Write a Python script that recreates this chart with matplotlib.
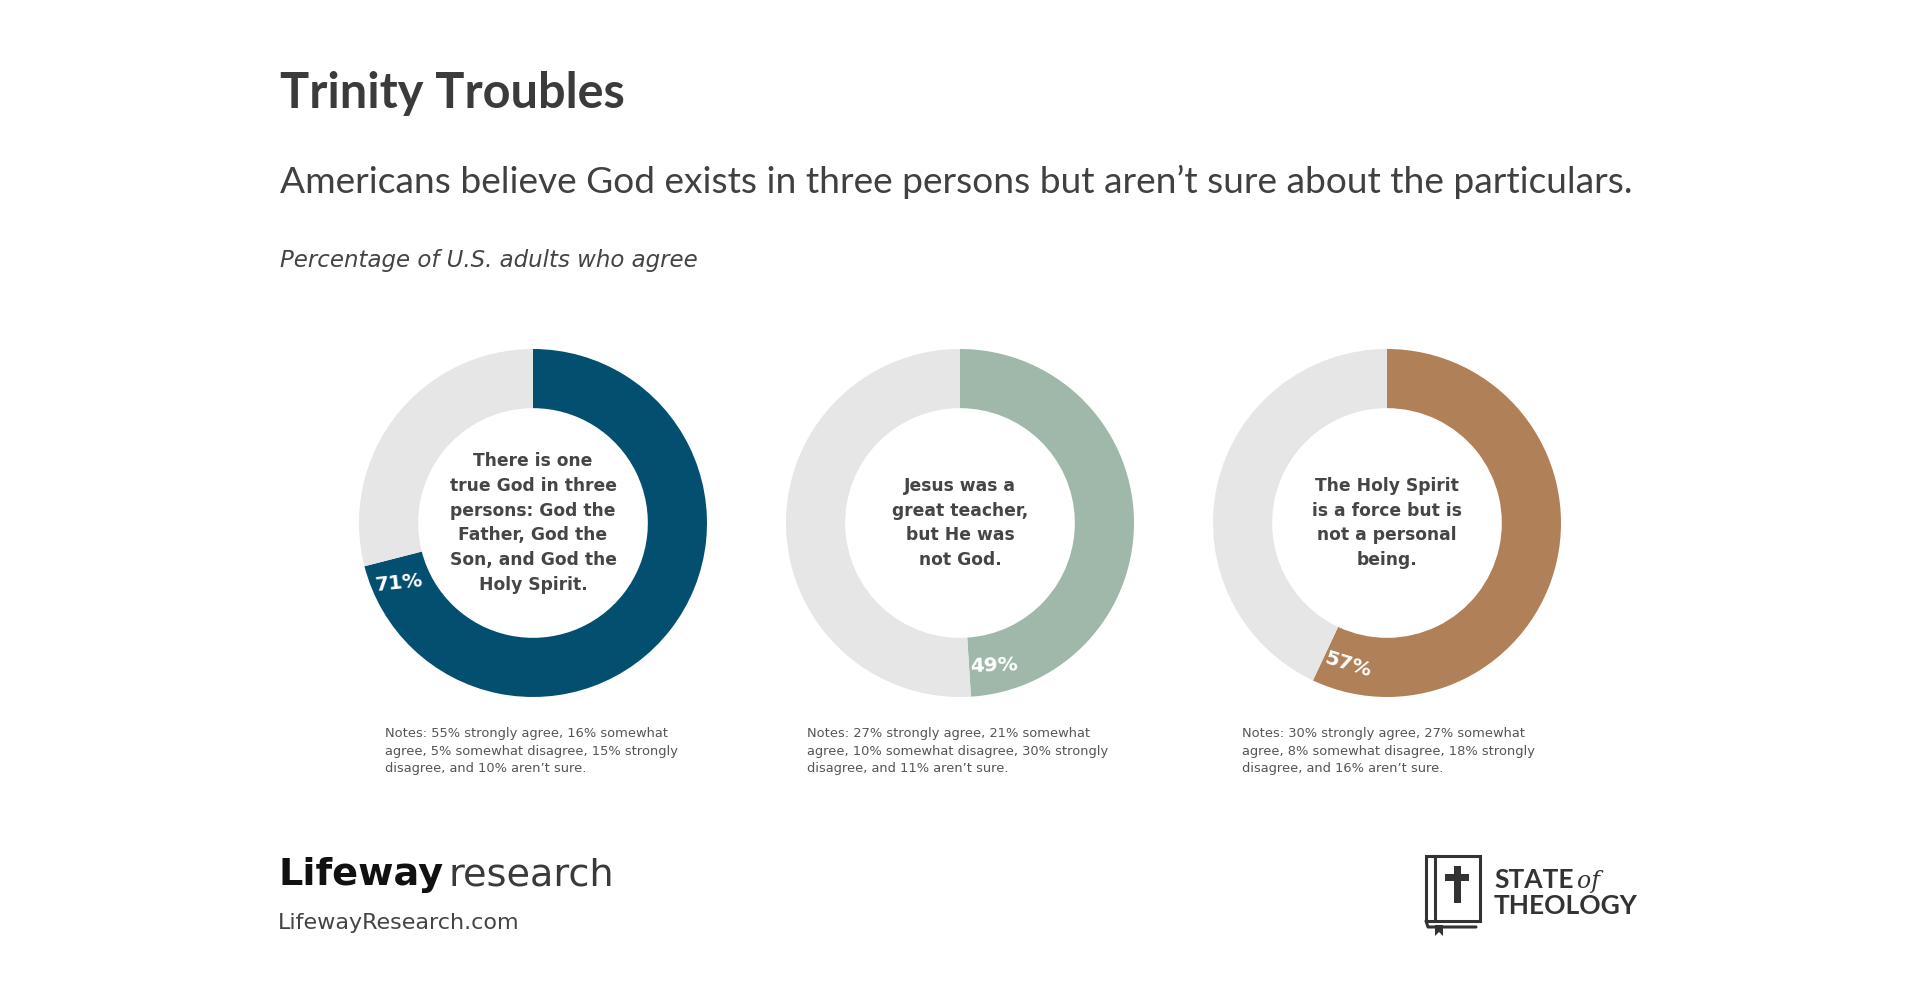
import matplotlib
matplotlib.use("Agg")
import matplotlib.pyplot as plt
from matplotlib.patches import Rectangle, Polygon
import numpy as np

plt.rcParams['font.family'] = ['DejaVu Sans']

# ---- data ----
title = "Trinity Troubles"
subtitle = "Americans believe God exists in three persons but aren\u2019t sure about the particulars."
caption = "Percentage of U.S. adults who agree"
statements = [
    "There is one\ntrue God in three\npersons: God the\nFather, God the\nSon, and God the\nHoly Spirit.",
    "Jesus was a\ngreat teacher,\nbut He was\nnot God.",
    "The Holy Spirit\nis a force but is\nnot a personal\nbeing.",
]
agree_pct = [71, 49, 57]
notes = [
    "Notes: 55% strongly agree, 16% somewhat\nagree, 5% somewhat disagree, 15% strongly\ndisagree, and 10% aren\u2019t sure.",
    "Notes: 27% strongly agree, 21% somewhat\nagree, 10% somewhat disagree, 30% strongly\ndisagree, and 11% aren\u2019t sure.",
    "Notes: 30% strongly agree, 27% somewhat\nagree, 8% somewhat disagree, 18% strongly\ndisagree, and 16% aren\u2019t sure.",
]

# ---- styles ----
ring_colors = ["#034f6f", "#9fb8a9", "#b08058"]
rest_color = "#e6e6e6"
label_rot = [6, 2, -17]

W, H = 1920, 1008
fig = plt.figure(figsize=(W / 100, H / 100), dpi=100)
fig.patch.set_facecolor("white")

ov = fig.add_axes([0, 0, 1, 1])
ov.set_xlim(0, W)
ov.set_ylim(H, 0)
ov.axis("off")

ov.text(280, 108, title, fontsize=35, fontweight="bold", family="Lato",
        color="#3b3b3b", ha="left", va="baseline")
ov.text(280, 193, subtitle, fontsize=26.7, fontweight="normal", family="Lato",
        color="#404040", ha="left", va="baseline")
ov.text(280, 267, caption, fontsize=16.5, style="italic", color="#444444",
        ha="left", va="baseline")

centers_x = [533, 960, 1387]
cy = 523
R = 174
note_x = [385, 807, 1242]

for i, (cx, pct) in enumerate(zip(centers_x, agree_pct)):
    ax = fig.add_axes([(cx - R) / W, (H - cy - R) / H, 2 * R / W, 2 * R / H])
    ax.pie([pct, 100 - pct], colors=[ring_colors[i], rest_color],
           startangle=90, counterclock=False, radius=1.0,
           wedgeprops=dict(width=0.34, edgecolor="none", linewidth=0))
    ax.set_xlim(-1, 1)
    ax.set_ylim(-1, 1)
    ax.set_aspect("equal")
    ax.axis("off")
    ang = np.deg2rad(90 - (pct - 2.7) * 3.6)
    r = 0.845
    ax.text(r * np.cos(ang), r * np.sin(ang), f"{pct}%", color="white",
            fontsize=14.5, fontweight="bold", ha="center", va="center",
            rotation=label_rot[i])
    ax.text(0, 0, statements[i], ha="center", va="center", fontsize=12.3,
            fontweight="bold", color="#454545", linespacing=1.48)
    ov.text(note_x[i], 751, notes[i], ha="left", va="center", fontsize=9.4,
            color="#555555", linespacing=1.45)

# ---- Lifeway logo ----
t1 = ov.text(278, 885, "Lifeway", fontsize=27.5, fontweight="bold", color="#111111",
             ha="left", va="baseline")
fig.canvas.draw()
bb = t1.get_window_extent()
ov.text(bb.x1 + 5, H - 885, "research", fontsize=27.5, color="#3a3a3a",
        ha="left", va="baseline", transform=None)
ov.text(278, 929, "LifewayResearch.com", fontsize=16, color="#444444",
        ha="left", va="baseline")

# ---- State of Theology logo ----
lc = "#333333"
ov.add_patch(Rectangle((1426, 856), 54, 65, fill=False, edgecolor=lc, lw=2.2))
ov.plot([1435, 1435], [856, 921], color=lc, lw=2.2)
ov.plot([1426, 1428, 1476], [921, 927, 927], color=lc, lw=2.2, solid_capstyle="round")
ov.add_patch(Polygon([[1435, 925], [1443, 925], [1443, 936], [1439, 932], [1435, 936]],
                     closed=True, facecolor=lc, edgecolor="none"))
ov.add_patch(Rectangle((1454, 866), 6.5, 37, facecolor=lc, edgecolor="none"))
ov.add_patch(Rectangle((1445, 874), 24, 6.5, facecolor=lc, edgecolor="none"))
t2 = ov.text(1494, 888, "STATE", fontsize=19, fontweight="bold", family="Lato",
             color=lc, ha="left", va="baseline")
fig.canvas.draw()
bb2 = t2.get_window_extent()
ov.text(bb2.x1 + 4, H - 888, "of", fontsize=17, style="italic", family="DejaVu Serif",
        color=lc, ha="left", va="baseline", transform=None)
ov.text(1494, 914, "THEOLOGY", fontsize=19, fontweight="bold", family="Lato",
        color=lc, ha="left", va="baseline")

fig.savefig("out.png", dpi=100, facecolor="white")
